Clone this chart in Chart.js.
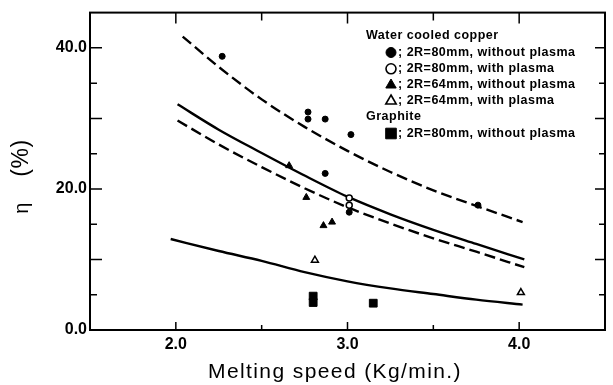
<!DOCTYPE html>
<html>
<head>
<meta charset="utf-8">
<script src="https://cdn.jsdelivr.net/npm/chart.js@4.4.0/dist/chart.umd.min.js"></script>
<style>
  html, body { margin: 0; padding: 0; background: #fff; }
</style>
</head>
<body>
<canvas id="myChart" width="613" height="385"></canvas>
<script>
/* Melting efficiency vs melting speed. */

// measured points
const cuNoPlasma80X = [2.27, 2.77, 2.77, 2.87, 3.02, 2.87, 3.01, 3.76];
const cuNoPlasma80Y = [38.8, 30.9, 29.9, 29.9, 27.7, 22.2, 16.7, 17.7];
const cuPlasma80X = [3.01, 3.01];
const cuPlasma80Y = [18.7, 17.7];
const cuNoPlasma64X = [2.66, 2.76, 2.86, 2.91];
const cuNoPlasma64Y = [23.3, 18.8, 14.8, 15.3];
const cuPlasma64X = [2.81, 4.01];
const cuPlasma64Y = [9.9, 5.3];
const graphiteX = [2.80, 2.80, 3.15];
const graphiteY = [4.8, 3.9, 3.8];

// calculated curves
const upperDashX = [2.04, 2.25, 2.5, 2.75, 3.0, 3.25, 3.5, 3.75, 4.02];
const upperDashY = [41.6, 37.3, 32.7, 28.8, 25.4, 22.4, 19.8, 17.6, 15.3];
const midSolidX = [2.01, 2.25, 2.5, 2.75, 3.0, 3.25, 3.5, 3.75, 4.03];
const midSolidY = [32.0, 28.4, 25.1, 21.9, 18.9, 16.4, 14.2, 12.2, 10.0];
const midDashX = [2.01, 2.25, 2.5, 2.75, 3.0, 3.25, 3.5, 3.75, 4.03];
const midDashY = [29.7, 26.3, 23.1, 20.1, 17.4, 15.1, 13.0, 11.1, 8.9];
const lowSolidX = [1.97, 2.25, 2.5, 2.75, 3.0, 3.25, 3.5, 3.75, 4.02];
const lowSolidY = [12.9, 11.2, 9.8, 8.2, 6.9, 5.9, 5.1, 4.3, 3.6];

// ticks
const xLabelTicks = [2.0, 3.0, 4.0];
const xMinorTicks = [2.5, 3.5];
const yLabelTicks = [0, 20, 40];
const yMajorTicks = [10, 20, 30, 40];
const yMinorTicks = [5, 15, 25, 35];

// texts
const xTitle = "Melting speed (Kg/min.)";
const yTitleSymbol = "η";
const yTitleUnit = "(%)";
const legendHeads = ["Water cooled copper", "Graphite"];
const legendLabels = [
  "; 2R=80mm, without plasma",
  "; 2R=80mm, with plasma",
  "; 2R=64mm, without plasma",
  "; 2R=64mm, with plasma",
  "; 2R=80mm, without plasma",
];

const FONT = "'Liberation Sans', Arial, Helvetica, sans-serif";

function pts(xs, ys) {
  return xs.map((x, i) => ({ x: x, y: ys[i] }));
}

function pointSet(xs, ys, style, radius, filled) {
  return {
    data: pts(xs, ys),
    pointStyle: style,
    pointRadius: radius,
    pointBackgroundColor: filled ? "#000" : "#fff",
    pointBorderColor: "#000",
    pointBorderWidth: filled ? 1 : 1.5,
    showLine: false,
    order: 0,
  };
}

function curve(xs, ys, dashed) {
  return {
    data: pts(xs, ys),
    showLine: true,
    borderColor: "#000",
    borderWidth: 2.4,
    borderDash: dashed ? [11, 5] : [],
    pointRadius: 0,
    cubicInterpolationMode: "monotone",
    fill: false,
    order: 1,
  };
}

/* Frame and inward tick marks. */
const framePlugin = {
  id: "frame",
  beforeDatasetsDraw(chart) {
    const { ctx, chartArea: a, scales } = chart;
    const x = scales.x, y = scales.y;
    ctx.save();
    ctx.strokeStyle = "#000";
    ctx.lineWidth = 2;
    ctx.strokeRect(a.left, a.top, a.right - a.left, a.bottom - a.top);
    ctx.lineWidth = 1.5;
    ctx.beginPath();
    xLabelTicks.forEach((v) => {
      const px = x.getPixelForValue(v);
      ctx.moveTo(px, a.bottom); ctx.lineTo(px, a.bottom - 8);
      ctx.moveTo(px, a.top); ctx.lineTo(px, a.top + 11);
    });
    xMinorTicks.forEach((v) => {
      const px = x.getPixelForValue(v);
      ctx.moveTo(px, a.bottom); ctx.lineTo(px, a.bottom - 5);
      ctx.moveTo(px, a.top); ctx.lineTo(px, a.top + 8);
    });
    yMajorTicks.forEach((v) => {
      const py = y.getPixelForValue(v);
      ctx.moveTo(a.left, py); ctx.lineTo(a.left + 12, py);
      ctx.moveTo(a.right, py); ctx.lineTo(a.right - 10, py);
    });
    yMinorTicks.forEach((v) => {
      const py = y.getPixelForValue(v);
      ctx.moveTo(a.left, py); ctx.lineTo(a.left + 7, py);
      ctx.moveTo(a.right, py); ctx.lineTo(a.right - 6, py);
    });
    ctx.stroke();
    ctx.restore();
  },
};

/* Legend block and axis titles. */
const textPlugin = {
  id: "texts",
  afterDraw(chart) {
    const ctx = chart.ctx;
    const ds = chart.data.datasets;
    ctx.save();
    ctx.fillStyle = "#000";
    ctx.textBaseline = "middle";
    ctx.textAlign = "left";
    ctx.font = "bold 12.5px " + FONT;
    if ("letterSpacing" in ctx) ctx.letterSpacing = "0.5px";

    const rows = [36, 52.5, 68.8, 85, 101, 117, 133.5];
    ctx.fillText(legendHeads[0], 366, rows[0]);
    ctx.fillText(legendHeads[1], 366, rows[5]);
    const sizes = [5, 5, 6, 6, 7.5];
    const rowOf = [1, 2, 3, 4, 6];
    legendLabels.forEach((t, i) => {
      const d = ds[i];
      const ry = rows[rowOf[i]];
      ctx.fillStyle = d.pointBackgroundColor;
      ctx.strokeStyle = "#000";
      ctx.lineWidth = d.pointBackgroundColor === "#fff" ? 1.6 : 1;
      Chart.helpers.drawPoint(ctx, {
        pointStyle: d.pointStyle, radius: sizes[i], rotation: 0, borderWidth: ctx.lineWidth,
      }, 391, ry);
      ctx.fillStyle = "#000";
      ctx.fillText(t, 398, ry);
    });

    // x title
    ctx.font = "21px " + FONT;
    if ("letterSpacing" in ctx) ctx.letterSpacing = "1.4px";
    ctx.textAlign = "center";
    ctx.textBaseline = "alphabetic";
    ctx.fillText(xTitle, 335, 378);

    // y title, rotated
    if ("letterSpacing" in ctx) ctx.letterSpacing = "0.5px";
    ctx.translate(28, 0);
    ctx.rotate(-Math.PI / 2);
    ctx.font = "20px " + FONT;
    ctx.fillText(yTitleSymbol, -208, 0);
    ctx.font = "23px " + FONT;
    ctx.fillText(yTitleUnit, -158, 0);
    ctx.restore();
  },
};

const ctx = document.getElementById("myChart");

const chart = new Chart(ctx, {
  type: "scatter",
  data: {
    datasets: [
      pointSet(cuNoPlasma80X, cuNoPlasma80Y, "circle", 3, true),
      pointSet(cuPlasma80X, cuPlasma80Y, "circle", 3, false),
      pointSet(cuNoPlasma64X, cuNoPlasma64Y, "triangle", 4, true),
      pointSet(cuPlasma64X, cuPlasma64Y, "triangle", 4, false),
      pointSet(graphiteX, graphiteY, "rect", 5.5, true),
      curve(upperDashX, upperDashY, true),
      curve(midSolidX, midSolidY, false),
      curve(midDashX, midDashY, true),
      curve(lowSolidX, lowSolidY, false),
    ],
  },
  options: {
    responsive: false,
    animation: false,
    layout: { padding: { top: 7, right: 8, left: 0, bottom: 0 } },
    plugins: { legend: { display: false }, tooltip: { enabled: false } },
    scales: {
      x: {
        type: "linear",
        min: 1.5,
        max: 4.5,
        grid: { display: false, drawTicks: false },
        border: { display: false },
        afterBuildTicks: (s) => { s.ticks = xLabelTicks.map((v) => ({ value: v })); },
        afterFit: (s) => { s.height = 55; },
        ticks: {
          color: "#000",
          padding: 5,
          maxRotation: 0,
          autoSkip: false,
          font: { family: FONT, size: 16, weight: "bold" },
          callback: (v) => Number(v).toFixed(1),
        },
      },
      y: {
        type: "linear",
        min: 0,
        max: 45,
        grid: { display: false, drawTicks: false },
        border: { display: false },
        afterBuildTicks: (s) => { s.ticks = yLabelTicks.map((v) => ({ value: v })); },
        afterFit: (s) => { s.width = 90; },
        ticks: {
          color: "#000",
          padding: 3,
          autoSkip: false,
          font: { family: FONT, size: 16, weight: "bold" },
          callback: (v) => Number(v).toFixed(1),
        },
      },
    },
  },
  plugins: [framePlugin, textPlugin],
});
</script>
</body>
</html>
